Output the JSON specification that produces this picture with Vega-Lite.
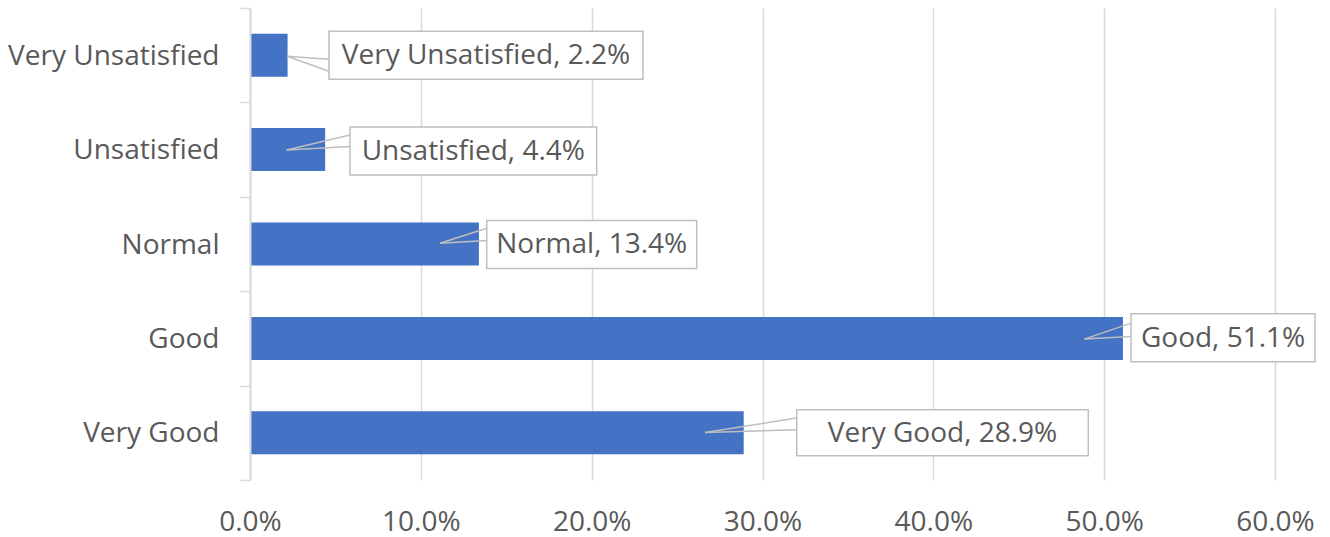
{
  "$schema": "https://vega.github.io/schema/vega-lite/v6.json",
  "width": 1025,
  "height": 472,
  "autosize": {"type": "none"},
  "padding": {"left": 250, "top": 8, "right": 55, "bottom": 57},
  "background": "white",
  "config": {"view": {"stroke": null}, "font": "Open Sans"},
  "data": {"values": [
    {"category": "Very Unsatisfied", "value": 0.022},
    {"category": "Unsatisfied", "value": 0.044},
    {"category": "Normal", "value": 0.134},
    {"category": "Good", "value": 0.511},
    {"category": "Very Good", "value": 0.289}
  ]},
  "transform": [{"calculate": "datum.category + ', ' + format(datum.value, '.1%')", "as": "label"}],
  "encoding": {
    "y": {
      "field": "category", "type": "nominal",
      "sort": ["Very Unsatisfied", "Unsatisfied", "Normal", "Good", "Very Good"],
      "scale": {"paddingInner": 0, "paddingOuter": 0},
      "axis": {
        "title": null, "domainColor": "#d9d9d9", "domainWidth": 2, "zindex": 1,
        "tickColor": "#d9d9d9", "tickWidth": 1.5, "tickSize": 10, "tickBand": "extent",
        "labelFontSize": 28, "labelColor": "#595959", "labelFont": "Open Sans",
        "labelPadding": 21, "labelLimit": 400, "labelOffset": 1
      }
    },
    "x": {
      "field": "value", "type": "quantitative",
      "scale": {"domain": [0, 0.6], "nice": false},
      "axis": {
        "title": null, "format": ".1%", "values": [0, 0.1, 0.2, 0.3, 0.4, 0.5, 0.6],
        "domain": false, "ticks": false, "grid": true, "gridColor": "#d9d9d9", "gridWidth": 1.5,
        "labelFontSize": 28, "labelColor": "#595959", "labelFont": "Open Sans",
        "labelPadding": 28, "labelFlush": false, "labelOverlap": false
      }
    }
  },
  "layer": [
    {"mark": {"type": "bar", "height": 43, "color": "#4472C4"}},
    {
      "transform": [{"filter": "datum.category === 'Very Unsatisfied'"}],
      "layer": [
        {"mark": {"type": "rule", "xOffset": -0.6, "x2Offset": 41.4, "yOffset": 1, "y2Offset": 4, "color": "#bfbfbf", "strokeWidth": 1.5}, "encoding": {"x2": {"field": "value"}, "y2": {"field": "category"}}},
        {"mark": {"type": "rule", "xOffset": -0.6, "x2Offset": 41.4, "yOffset": 1, "y2Offset": 16, "color": "#bfbfbf", "strokeWidth": 1.5}, "encoding": {"x2": {"field": "value"}, "y2": {"field": "category"}}},
        {"mark": {"type": "rect", "xOffset": 41.4, "x2Offset": 355.4, "height": 48, "fill": "white", "stroke": "#bfbfbf", "strokeWidth": 1.5}, "encoding": {"x2": {"field": "value"}}},
        {"mark": {"type": "text", "xOffset": 198.4, "yOffset": 1, "fontSize": 28, "font": "Open Sans", "color": "#595959", "align": "center", "baseline": "middle"}, "encoding": {"text": {"field": "label"}}}
      ]
    },
    {
      "transform": [{"filter": "datum.category === 'Unsatisfied'"}],
      "layer": [
        {"mark": {"type": "rule", "xOffset": -38.5, "x2Offset": 24.8, "yOffset": 0.3, "y2Offset": -14.7, "color": "#bfbfbf", "strokeWidth": 1.5}, "encoding": {"x2": {"field": "value"}, "y2": {"field": "category"}}},
        {"mark": {"type": "rule", "xOffset": -38.5, "x2Offset": 24.8, "yOffset": 0.3, "y2Offset": -3, "color": "#bfbfbf", "strokeWidth": 1.5}, "encoding": {"x2": {"field": "value"}, "y2": {"field": "category"}}},
        {"mark": {"type": "rect", "xOffset": 24.8, "x2Offset": 271.5, "yOffset": 1.5, "height": 48, "fill": "white", "stroke": "#bfbfbf", "strokeWidth": 1.5}, "encoding": {"x2": {"field": "value"}}},
        {"mark": {"type": "text", "xOffset": 148.1, "yOffset": 2.5, "fontSize": 28, "font": "Open Sans", "color": "#595959", "align": "center", "baseline": "middle"}, "encoding": {"text": {"field": "label"}}}
      ]
    },
    {
      "transform": [{"filter": "datum.category === 'Normal'"}],
      "layer": [
        {"mark": {"type": "rule", "xOffset": -38.9, "x2Offset": 7.8, "yOffset": -0.8, "y2Offset": -15.8, "color": "#bfbfbf", "strokeWidth": 1.5}, "encoding": {"x2": {"field": "value"}, "y2": {"field": "category"}}},
        {"mark": {"type": "rule", "xOffset": -38.9, "x2Offset": 7.8, "yOffset": -0.8, "y2Offset": -3.4, "color": "#bfbfbf", "strokeWidth": 1.5}, "encoding": {"x2": {"field": "value"}, "y2": {"field": "category"}}},
        {"mark": {"type": "rect", "xOffset": 7.8, "x2Offset": 217.8, "yOffset": 0.4, "height": 48, "fill": "white", "stroke": "#bfbfbf", "strokeWidth": 1.5}, "encoding": {"x2": {"field": "value"}}},
        {"mark": {"type": "text", "xOffset": 112.8, "yOffset": 1.4, "fontSize": 28, "font": "Open Sans", "color": "#595959", "align": "center", "baseline": "middle"}, "encoding": {"text": {"field": "label"}}}
      ]
    },
    {
      "transform": [{"filter": "datum.category === 'Good'"}],
      "layer": [
        {"mark": {"type": "rule", "xOffset": -38.6, "x2Offset": 8.1, "yOffset": 0.7, "y2Offset": -15.3, "color": "#bfbfbf", "strokeWidth": 1.5}, "encoding": {"x2": {"field": "value"}, "y2": {"field": "category"}}},
        {"mark": {"type": "rule", "xOffset": -38.6, "x2Offset": 8.1, "yOffset": 0.7, "y2Offset": -1.9, "color": "#bfbfbf", "strokeWidth": 1.5}, "encoding": {"x2": {"field": "value"}, "y2": {"field": "category"}}},
        {"mark": {"type": "rect", "xOffset": 8.1, "x2Offset": 192.1, "yOffset": -0.6, "height": 48, "fill": "white", "stroke": "#bfbfbf", "strokeWidth": 1.5}, "encoding": {"x2": {"field": "value"}}},
        {"mark": {"type": "text", "xOffset": 100.1, "yOffset": 0.4, "fontSize": 28, "font": "Open Sans", "color": "#595959", "align": "center", "baseline": "middle"}, "encoding": {"text": {"field": "label"}}}
      ]
    },
    {
      "transform": [{"filter": "datum.category === 'Very Good'"}],
      "layer": [
        {"mark": {"type": "rule", "xOffset": -38.7, "x2Offset": 53, "yOffset": -0.3, "y2Offset": -14.7, "color": "#bfbfbf", "strokeWidth": 1.5}, "encoding": {"x2": {"field": "value"}, "y2": {"field": "category"}}},
        {"mark": {"type": "rule", "xOffset": -38.7, "x2Offset": 53, "yOffset": -0.3, "y2Offset": -3, "color": "#bfbfbf", "strokeWidth": 1.5}, "encoding": {"x2": {"field": "value"}, "y2": {"field": "category"}}},
        {"mark": {"type": "rect", "xOffset": 53, "x2Offset": 344.6, "height": 46, "fill": "white", "stroke": "#bfbfbf", "strokeWidth": 1.5}, "encoding": {"x2": {"field": "value"}}},
        {"mark": {"type": "text", "xOffset": 198.8, "yOffset": 1, "fontSize": 28, "font": "Open Sans", "color": "#595959", "align": "center", "baseline": "middle"}, "encoding": {"text": {"field": "label"}}}
      ]
    }
  ]
}
